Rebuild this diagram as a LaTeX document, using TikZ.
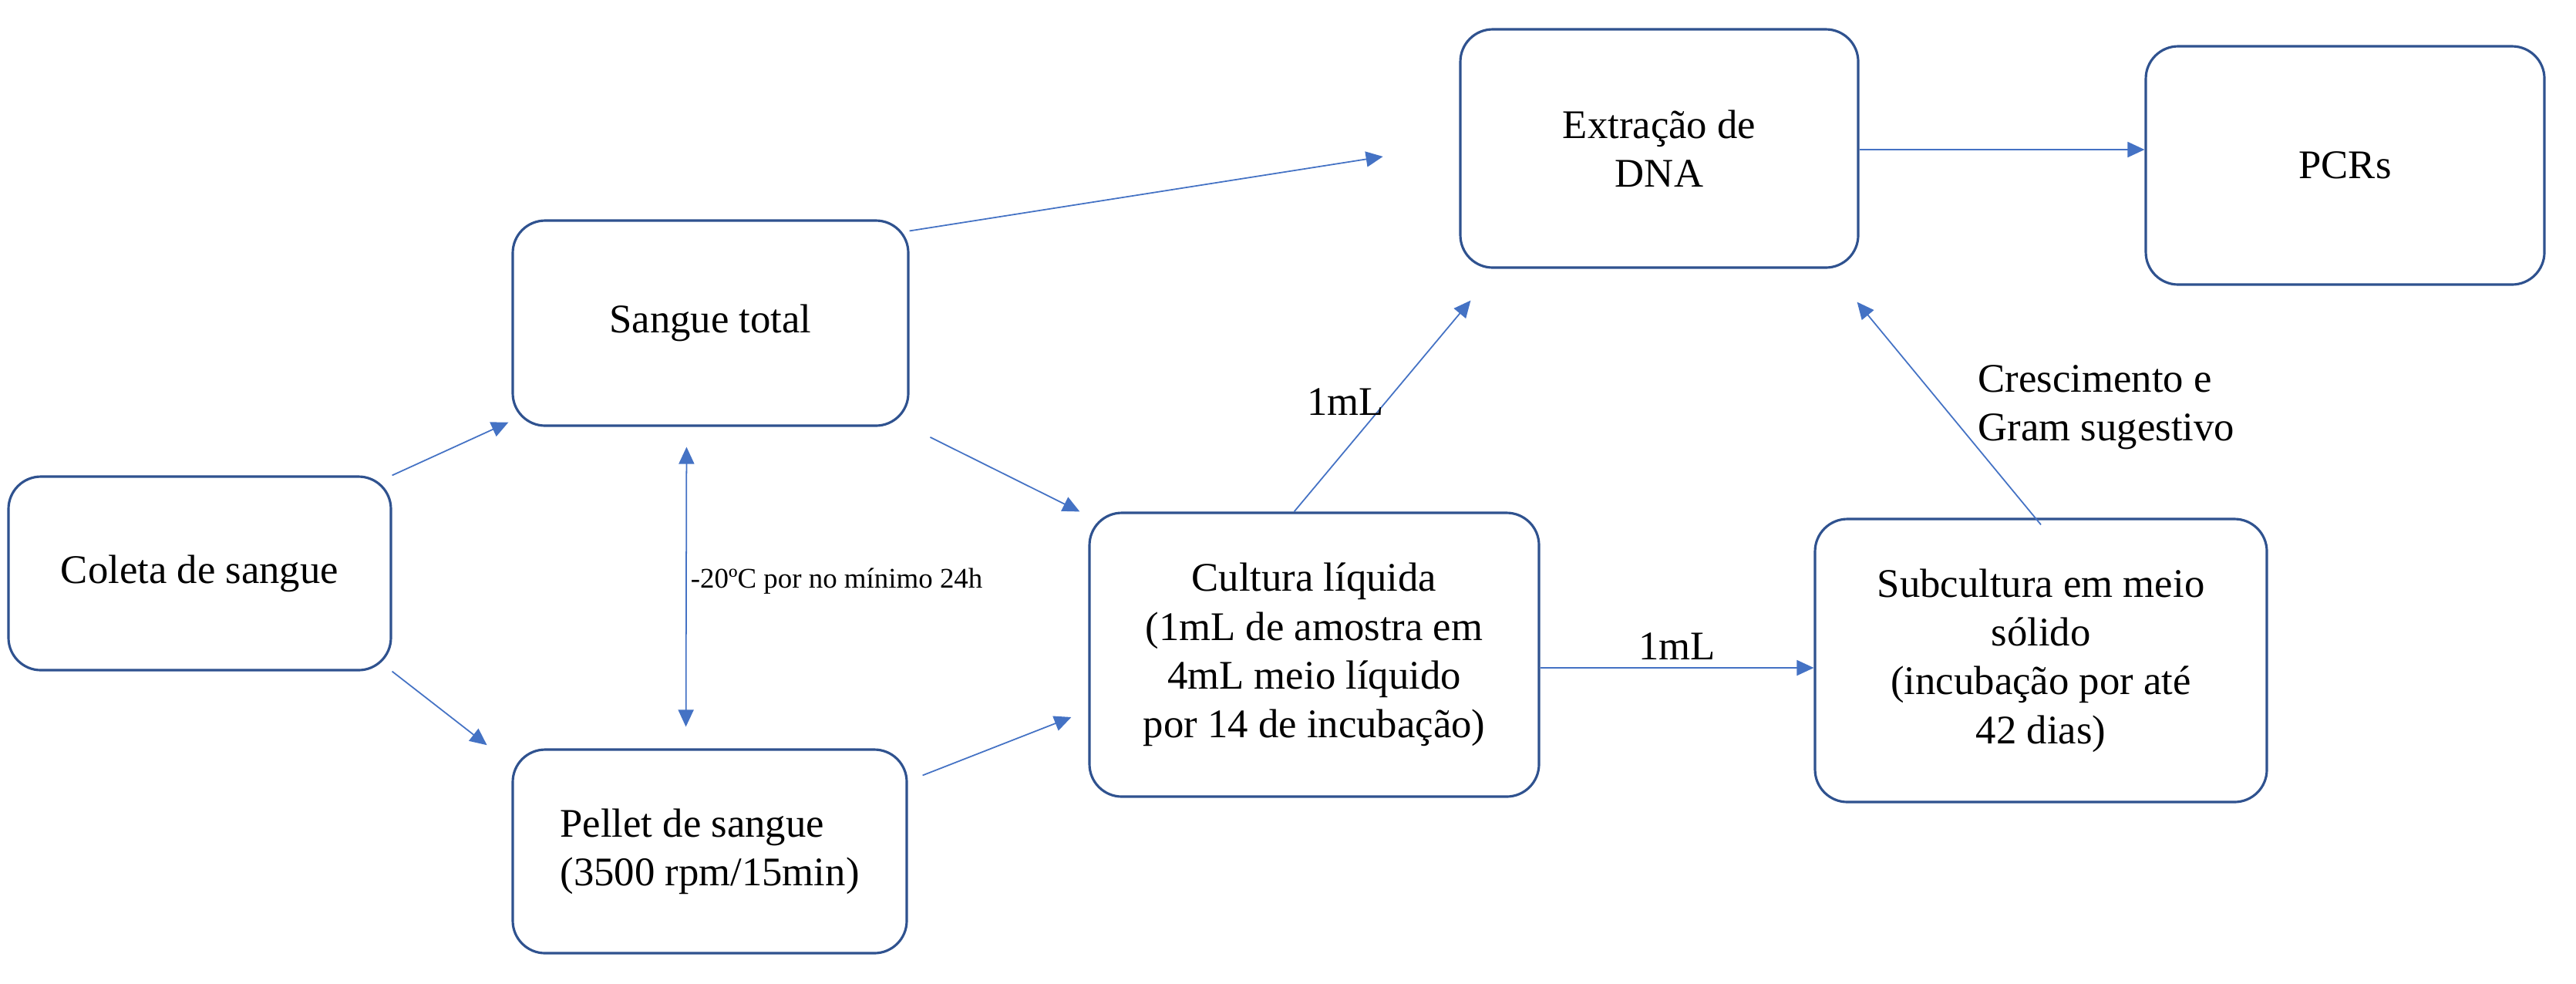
\documentclass[tikz,border=0pt]{standalone}
\usepackage{fontspec}
\setmainfont{Liberation Serif}
\usetikzlibrary{arrows.meta}
\definecolor{fluxoDarkBlue}{RGB}{47, 82, 143}
\definecolor{fluxoBlue}{RGB}{68, 114, 196}

\begin{document}
\begin{tikzpicture}[
  box/.style={
    draw=fluxoDarkBlue,
    line width=0.9pt,
    fill=white,
    rounded corners=0.42cm,
    align=center,
    inner sep=0pt,
    font=\fontsize{15}{18}\selectfont
  },
  arrow/.style={-{Triangle[length=0.22cm,width=0.2cm]},line width=0.5pt,fluxoBlue},
  lbl/.style={font=\fontsize{15}{18}\selectfont,text=black,inner sep=0pt}
]
  \useasboundingbox (0,0) rectangle (33.41,-12.75);
  \node[box,minimum width=4.96cm,minimum height=2.51cm] (coleta) at (2.59,-7.435)
    {Coleta de sangue};
  \node[box,minimum width=5.13cm,minimum height=2.66cm] (sangue) at (9.215,-4.19)
    {Sangue total};
  \node[box,align=left,minimum width=5.11cm,minimum height=2.64cm] (pellet) at (9.205,-11.04)
    {Pellet de sangue\\(3500 rpm/15min)};
  \node[box,minimum width=5.16cm,minimum height=3.09cm] (extracao) at (21.52,-1.925)
    {Extração de\\DNA};
  \node[box,minimum width=5.17cm,minimum height=3.09cm] (pcrs) at (30.415,-2.145)
    {PCRs};
  \node[box,minimum width=5.83cm,minimum height=3.68cm] (cultura) at (17.045,-8.49)
    {Cultura líquida\\(1mL de amostra em\\4mL meio líquido\\por 14 de incubação)};
  \node[box,minimum width=5.86cm,minimum height=3.67cm] (subcultura) at (26.47,-8.565)
    {Subcultura em meio\\sólido\\(incubação por até\\42 dias)};

  \draw[arrow] (coleta.north east) -- ([shift={(-0.04cm,0.06cm)}]sangue.south west);
  \draw[arrow,shorten >=0.15cm] (coleta.south east) -- ([shift={(-0.2cm,-0.05cm)}]pellet.north west);
  \draw[{Triangle[length=0.22cm,width=0.2cm]}-{Triangle[length=0.22cm,width=0.2cm]},line width=0.5pt,fluxoBlue,shorten <=0.26cm,shorten >=0.28cm]
    ([xshift=-0.31cm]sangue.south) --
    node[right=0.05cm,pos=0.48,text=black,font=\fontsize{10.5}{12}\selectfont,inner sep=0pt]{-20ºC por no mínimo 24h}
    ([xshift=-0.31cm]pellet.north);
  \draw[arrow,shorten >=1.0cm] ([yshift=-0.15cm]sangue.north east) -- ([yshift=0.05cm]extracao.west);
  \draw[arrow,shorten <=0.3cm] (sangue.south east) -- ([xshift=-0.11cm]cultura.north west);
  \draw[arrow] ([shift={(0.19cm,-0.35cm)}]pellet.north east) -- ([shift={(-0.22cm,-0.81cm)}]cultura.west);
  \draw[arrow] ([xshift=-0.26cm]cultura.north) --
    node[lbl,pos=0.52,left=0.02cm]{1mL}
    ([shift={(0.15cm,-0.41cm)}]extracao.south west);
  \draw[arrow] ([yshift=-0.17cm]cultura.east) --
    node[lbl,above=0.1cm]{1mL}
    ([yshift=-0.17cm]cultura.east -| subcultura.west);
  \draw[arrow] ([yshift=-0.09cm]subcultura.north) -- ([shift={(-0.03cm,-0.43cm)}]extracao.south east);
  \node[lbl,align=left,anchor=west] (crescimento) at (25.65,-5.28)
    {Crescimento e\\Gram sugestivo};
  \draw[arrow] ([yshift=-0.015cm]extracao.east) -- ([yshift=-0.015cm]extracao.east -| pcrs.west);
\end{tikzpicture}
\end{document}
